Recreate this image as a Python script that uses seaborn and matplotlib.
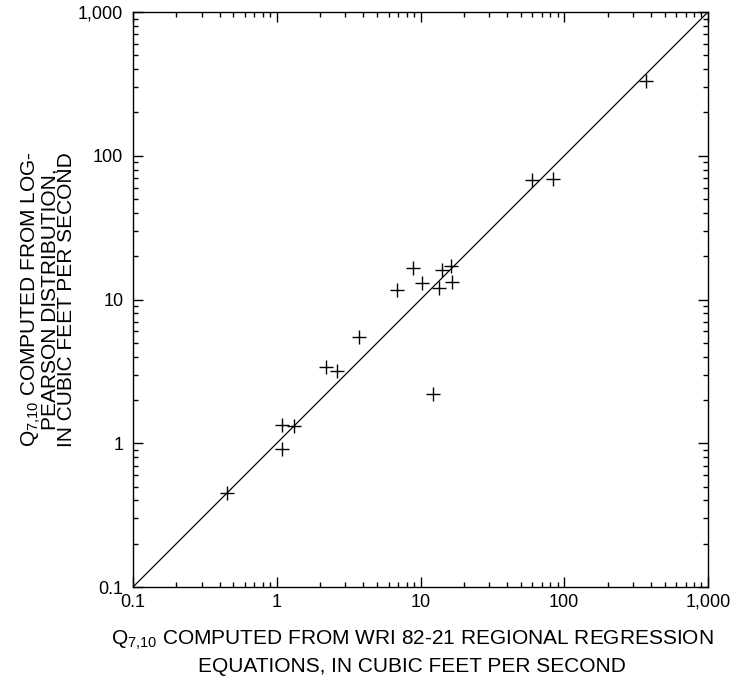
import matplotlib
matplotlib.use("Agg")
import matplotlib.pyplot as plt
import seaborn as sns
import numpy as np
from matplotlib.ticker import LogLocator, FixedLocator, FixedFormatter, NullFormatter

# Data
regression_q710 = [0.45, 1.08, 1.32, 1.08, 2.19, 2.61, 3.75, 6.9, 8.8, 10.2,
                   13.4, 14.2, 16.3, 16.6, 12.2, 60, 83, 368]
logpearson_q710 = [0.45, 1.34, 1.32, 0.91, 3.41, 3.2, 5.46, 11.6, 16.5, 13.1,
                   12.0, 16.0, 17.1, 13.3, 2.2, 68, 68.5, 333]
line_of_equality = [0.1, 1000]
tick_values = [0.1, 1, 10, 100, 1000]
tick_labels = ["0.1", "1", "10", "100", "1,000"]

sns.set_style("ticks")
plt.rcParams["font.family"] = ["Liberation Sans", "DejaVu Sans"]
plt.rcParams["mathtext.fontset"] = "custom"
plt.rcParams["mathtext.rm"] = "Liberation Sans"
plt.rcParams["mathtext.it"] = "Liberation Sans"
for key in ["text.color", "axes.labelcolor", "xtick.color", "ytick.color",
            "xtick.labelcolor", "ytick.labelcolor"]:
    plt.rcParams[key] = "black"

fig = plt.figure(figsize=(7.33, 6.92), dpi=100)
ax = fig.add_axes([133/733, 105/692, 575/733, 575/692])

sns.lineplot(x=line_of_equality, y=line_of_equality, ax=ax, color="black",
             linewidth=0.9)
sns.scatterplot(x=regression_q710, y=logpearson_q710, ax=ax, marker="+",
                color="black", s=115, linewidth=1.0)

ax.set_xscale("log")
ax.set_yscale("log")
ax.set_xlim(0.1, 1000)
ax.set_ylim(0.1, 1000)

for axis in (ax.xaxis, ax.yaxis):
    axis.set_major_locator(FixedLocator(tick_values))
    axis.set_major_formatter(FixedFormatter(tick_labels))
    axis.set_minor_locator(LogLocator(base=10, subs=np.arange(2, 10)))
    axis.set_minor_formatter(NullFormatter())

ax.tick_params(which="both", direction="in", top=True, right=True,
               color="black", labelcolor="black", labelsize=13, width=1.0)
ax.tick_params(which="major", length=7)
ax.tick_params(axis="x", which="major", pad=5)
ax.tick_params(axis="y", which="major", pad=7)
ax.tick_params(which="minor", length=3.5)
for s in ax.spines.values():
    s.set_color("black")
    s.set_linewidth(1.0)

ax.set_xlabel("$\\mathregular{Q_{7{,}10}}$ COMPUTED FROM WRI 82-21 REGIONAL REGRESSION\nEQUATIONS, IN CUBIC FEET PER SECOND",
              fontsize=15, linespacing=1.35, color="black")
ax.xaxis.set_label_coords(0.485, -0.073)
ax.set_ylabel("$\\mathregular{Q_{7{,}10}}$ COMPUTED FROM LOG-\nPEARSON DISTRIBUTION,\nIN CUBIC FEET PER SECOND",
              fontsize=15, linespacing=0.85, color="black")
ax.yaxis.set_label_coords(-0.099, 0.5)

fig.savefig("out.png", dpi=100, facecolor="white")
